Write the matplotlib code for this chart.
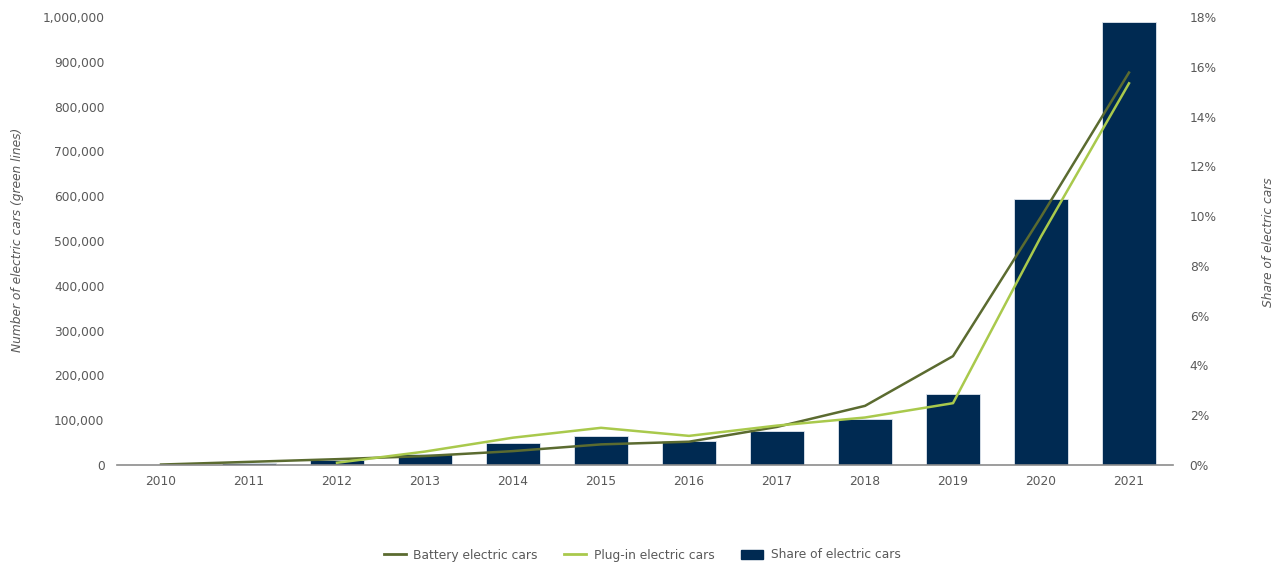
import matplotlib
matplotlib.use("Agg")
import matplotlib.pyplot as plt
from matplotlib.ticker import FuncFormatter, MultipleLocator
from matplotlib.lines import Line2D
from matplotlib.patches import Patch
import numpy as np

years = ["2010", "2011", "2012", "2013", "2014", "2015", "2016", "2017", "2018", "2019", "2020", "2021"]
battery = [1000, 7000, 13000, 20000, 31000, 46000, 52000, 85000, 132000, 243000, 554000, 876000]
plugin = [None, None, 5000, 30000, 61000, 83000, 65000, 88000, 106000, 138000, 510000, 852000]
share = [0.0, 0.1, 0.2, 0.43, 0.87, 1.18, 0.96, 1.38, 1.86, 2.85, 10.68, 17.78]

NAVY = "#002a52"
DARK = "#5b6b30"
LIGHT = "#a9c94c"
TXT = "#595959"
FS = 8.8

fig = plt.figure(figsize=(12.87, 5.67), dpi=100)
ax = fig.add_axes([117/1287, 102/567, 1056/1287, 448/567])
ax2 = ax.twinx()

x = np.arange(len(years))
ax2.bar(x, share, width=0.62, color=NAVY, edgecolor="#dfe6ee", linewidth=0.6)

pl_x = [i for i, v in enumerate(plugin) if v is not None]
pl_y = [v for v in plugin if v is not None]
ax.plot(x, battery, color=DARK, lw=1.8)
ax.plot(pl_x, pl_y, color=LIGHT, lw=1.8)

ax.set_zorder(ax2.get_zorder() + 1)
ax.patch.set_visible(False)

ax.set_xlim(-0.5, len(years) - 0.5)
ax.set_ylim(0, 1000000)
ax2.set_ylim(0, 18)
ax.yaxis.set_major_locator(MultipleLocator(100000))
ax2.yaxis.set_major_locator(MultipleLocator(2))
ax.yaxis.set_major_formatter(FuncFormatter(lambda v, p: f"{int(v):,}"))
ax2.yaxis.set_major_formatter(FuncFormatter(lambda v, p: f"{int(v)}%"))
ax.set_xticks(x)
ax.set_xticklabels(years)

for a in (ax, ax2):
    for s in ("top", "left", "right"):
        a.spines[s].set_visible(False)
    a.spines["bottom"].set_color("#8c8c8c")
    a.spines["bottom"].set_linewidth(1.2)
ax2.spines["bottom"].set_visible(False)

ax.tick_params(axis="y", length=0, pad=9, labelsize=FS, labelcolor=TXT)
ax2.tick_params(axis="y", length=0, pad=12, labelsize=FS, labelcolor=TXT)
ax.tick_params(axis="x", length=0, pad=7, labelsize=FS, labelcolor=TXT)

fig.text(18/1287, 1 - 240/567, "Number of electric cars (green lines)", fontsize=FS, style="italic",
         color=TXT, rotation=90, ha="center", va="center")
fig.text(1268/1287, 1 - 242/567, "Share of electric cars", fontsize=FS, style="italic",
         color=TXT, rotation=90, ha="center", va="center")

handles = [Line2D([], [], color=DARK, lw=2), Line2D([], [], color=LIGHT, lw=2),
           Patch(facecolor=NAVY, edgecolor=NAVY)]
labels = ["Battery electric cars", "Plug-in electric cars", "Share of electric cars"]
fig.legend(handles, labels, loc="center", bbox_to_anchor=(642/1287, 1 - 555/567), ncol=3,
           frameon=False, fontsize=FS, labelcolor=TXT, handlelength=1.8, columnspacing=2.2,
           handletextpad=0.6)

fig.savefig("out.png", dpi=100)
